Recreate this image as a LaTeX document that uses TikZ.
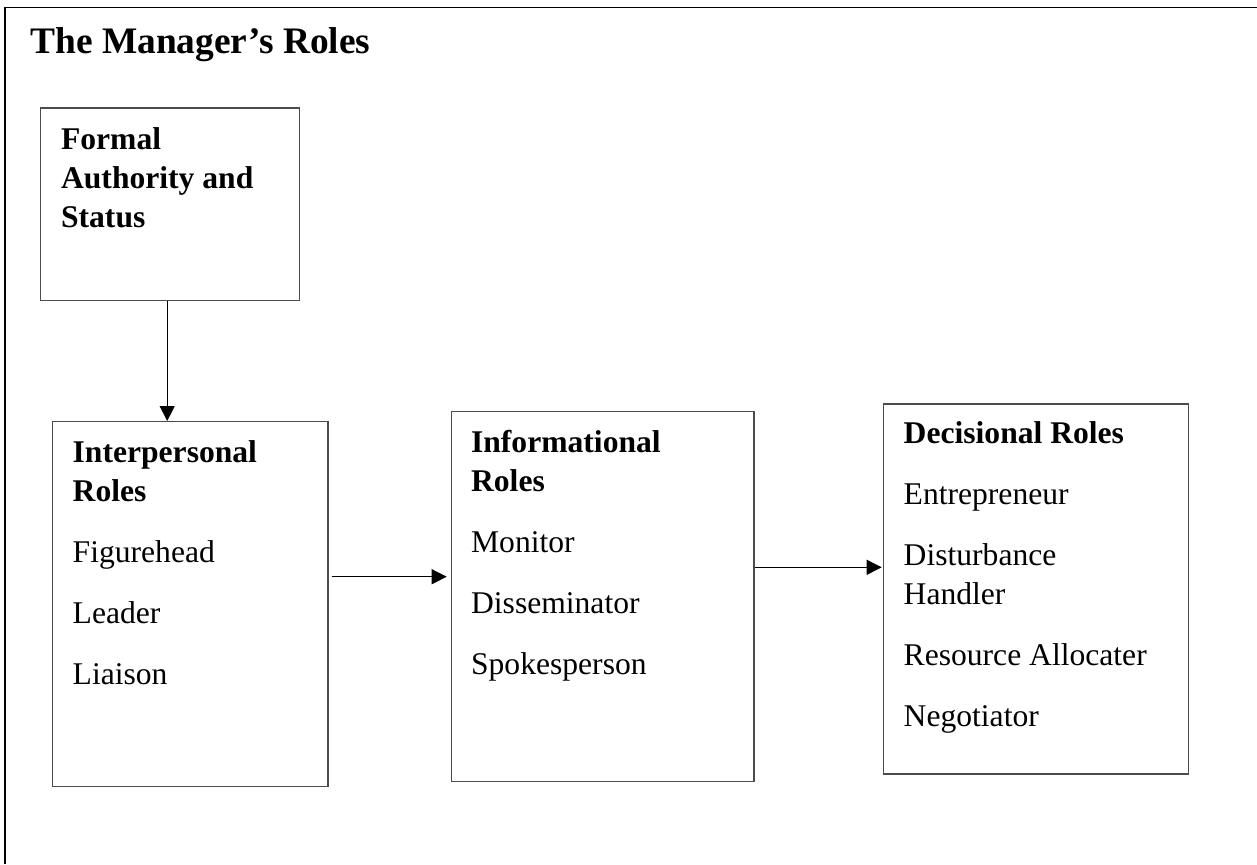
\documentclass[tikz,border=0pt]{standalone}
\usepackage{fontspec}
\setmainfont{Liberation Serif}
\usetikzlibrary{arrows.meta,positioning,calc}

\begin{document}
\begin{tikzpicture}[x=0.5pt,y=0.5pt,
  rolebox/.style={draw=black!70,line width=0.6pt,anchor=north west,inner sep=0pt},
  roletext/.style={anchor=north west,inner sep=0pt,align=left,font=\fontsize{15.8}{19.5}\selectfont,
    execute at begin node=\rule{0pt}{15pt}},
  flow/.style={-{Triangle[length=7.5pt,width=7.5pt]},line width=0.5pt}]
\useasboundingbox (0,0) rectangle (1257,-864);
\draw[line width=0.8pt] (4.7,-864) |- (1257,-7.3);
\node[anchor=base west,inner sep=0pt,font=\fontsize{18.7}{22}\selectfont\bfseries] (title) at (30,-53) {The Manager’s Roles};

% boxes
\node[rolebox,minimum width=129.6pt,minimum height=96.4pt] (formal) at (40,-107.3) {};
\node[rolebox,minimum width=137.8pt,minimum height=182.4pt] (inter) at (51.7,-421) {};
\node[rolebox,minimum width=151.3pt,minimum height=185.2pt] (info) at (450.7,-410.7) {};
\node[rolebox,minimum width=152.5pt,minimum height=185pt] (decis) at (882.7,-403.3) {};

% texts
\node[roletext] (formaltext) at ([shift={(20.7,-19.7)}]formal.north west) {\textbf{Formal}\\\textbf{Authority and}\\\textbf{Status}};
\node[roletext] (intertext) at ([shift={(20.6,-18.7)}]inter.north west) {\textbf{Interpersonal}\\\textbf{Roles}\\[11pt]Figurehead\\[11pt]Leader\\[11pt]Liaison};
\node[roletext] (infotext) at ([shift={(20,-19)}]info.north west) {\textbf{Informational}\\\textbf{Roles}\\[11pt]Monitor\\[11pt]Disseminator\\[11pt]Spokesperson};
\node[roletext] (decistext) at ([shift={(20.6,-17.4)}]decis.north west) {\textbf{Decisional Roles}\\[11pt]Entrepreneur\\[11pt]Disturbance\\Handler\\[11pt]Resource Allocater\\[11pt]Negotiator};

% arrows
\coordinate (fa) at ([xshift=-1.5pt]formal.south);
\coordinate (ia) at ([shift={(3,27.3)}]inter.east);
\coordinate (da) at ([shift={(0,29.2)}]info.east);
\draw[flow] (fa) -- (fa |- inter.north);
\draw[flow,shorten >=2pt] (ia) -- (ia -| info.west);
\draw[flow,shorten >=0.5pt] (da) -- (da -| decis.west);
\end{tikzpicture}
\end{document}
